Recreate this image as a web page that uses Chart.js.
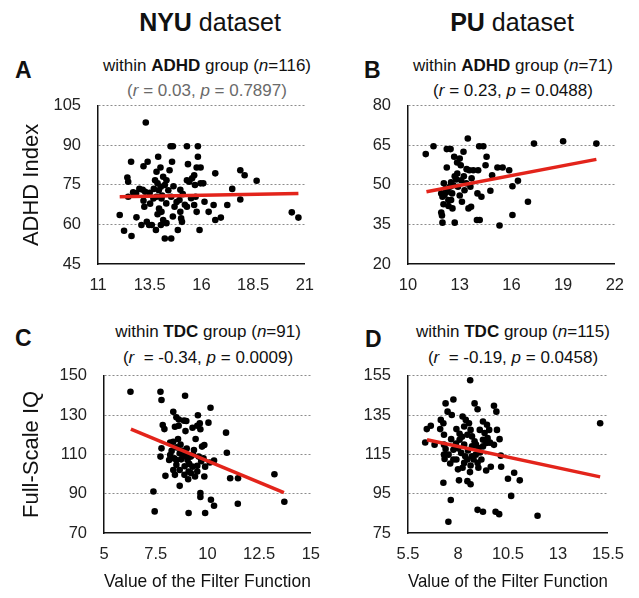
<!DOCTYPE html>
<html>
<head>
<meta charset="utf-8">
<script src="https://cdn.jsdelivr.net/npm/chart.js"></script>
<style>
  body { margin: 0; background: #fff; }
  #fig { position: relative; width: 639px; height: 598px; overflow: hidden;
         font-family: "Liberation Sans", Arial, sans-serif; color: #111; }
  #fig canvas { position: absolute; }
  .t { position: absolute; white-space: nowrap; line-height: 1; transform: translate(-50%, -50%); }
  .hdr { font-size: 25px; }
  .sub { font-size: 17px; }
  .grey { color: #6a6a6a; }
  .let { position: absolute; line-height: 1; font-size: 23px; font-weight: bold; transform: translateY(-50%); }
</style>
</head>
<body>
<div id="fig">
  <div class="t hdr" style="left:210px; top:22px"><b>NYU</b> dataset</div>
  <div class="t hdr" style="left:512px; top:22px"><b>PU</b> dataset</div>

  <div class="let" style="left:15px; top:70px">A</div>
  <div class="t sub" style="left:207px; top:65px">within <b>ADHD</b> group (<i>n</i>=116)</div>
  <div class="t sub grey" style="left:207px; top:90px">(<i>r</i> = 0.03, <i>p</i> = 0.7897)</div>

  <div class="let" style="left:364px; top:70px">B</div>
  <div class="t sub" style="left:513px; top:65px">within <b>ADHD</b> group (<i>n</i>=71)</div>
  <div class="t sub" style="left:513px; top:90px">(<i>r</i> = 0.23, <i>p</i> = 0.0488)</div>

  <div class="let" style="left:15px; top:338px">C</div>
  <div class="t sub" style="left:208px; top:331px">within <b>TDC</b> group (<i>n</i>=91)</div>
  <div class="t sub" style="left:208px; top:357px">(<i>r</i> &nbsp;= -0.34, <i>p</i> = 0.0009)</div>

  <div class="let" style="left:365px; top:339px">D</div>
  <div class="t sub" style="left:513px; top:331px">within <b>TDC</b> group (<i>n</i>=115)</div>
  <div class="t sub" style="left:513px; top:357px">(<i>r</i> &nbsp;= -0.19, <i>p</i> = 0.0458)</div>

  <canvas id="chartA" width="326" height="217" style="left:0px; top:79px"></canvas>
  <canvas id="chartB" width="326" height="217" style="left:310px; top:79px"></canvas>
  <canvas id="chartC" width="332" height="249" style="left:0px; top:349px"></canvas>
  <canvas id="chartD" width="326" height="249" style="left:310px; top:349px"></canvas>
</div>

<script>
// NYU, ADHD group: filter function value vs ADHD index
const nyuAdhdX = [13.31, 12.05, 12.26, 12.62, 12.42, 12.46, 12.6, 12.46, 12.84, 12.86, 13.1, 13.2, 13.4, 13.16, 13.28,
  13.24, 13.36, 13.47, 13.6, 13.52, 13.68, 13.91, 14.02, 13.83, 13.76, 13.88, 14.04, 14.15, 14.23, 13.94, 13.83, 14.07,
  13.88, 14.07, 13.8, 14.04, 14.15, 14.23, 14.54, 14.31, 14.51, 14.62, 14.58, 14.46, 14.31, 14.54, 14.62, 14.7, 14.86,
  14.98, 14.94, 14.98, 15.02, 15.06, 15.3, 15.35, 15.3, 15.41, 15.3, 15.65, 15.77, 15.83, 15.83, 15.96, 15.69, 15.72,
  15.65, 15.77, 15.91, 15.96, 16.09, 16.15, 16.35, 16.59, 16.67, 16.67, 16.94, 17.25, 17.49, 17.88, 18.09, 17.88, 18.67,
  20.37, 20.69, 13.5, 13.7, 14.1, 14.3, 13.2, 14.4, 13.95, 14.8, 15.1, 15.5, 15.2, 12.7, 13.0, 14.65, 15.55]
const nyuAdhdY = [98.7, 63.6, 57.6, 55.6, 77.8, 76.2, 83.8, 70.5, 71.8, 62.7, 59.8, 82.1, 83.8, 73.2, 72.4,
  66.7, 61.0, 59.8, 59.8, 67.9, 69.9, 85.7, 81.6, 80, 76.8, 75.6, 74.3, 78.1, 75, 73, 70.5, 69.9,
  63.9, 64.8, 57.9, 59.8, 61.7, 54.7, 54.7, 60.5, 89.7, 89.7, 83.8, 80.6, 76.8, 70.5, 63.0, 66.7, 57.9,
  73.2, 69.3, 64.8, 62.3, 61.0, 89.7, 82.9, 76.8, 76.2, 66.7, 78.7, 81.6, 89.7, 85.7, 81.6, 75, 70.5,
  67.4, 64.8, 57.9, 75.6, 75.6, 68.6, 64.8, 67.4, 79.4, 61.7, 62.6, 67.4, 73.5, 80.6, 78.7, 69.5, 76.6,
  64.6, 62.6, 72, 73.5, 71, 68, 69, 73, 66, 68.5, 71.5, 70, 67.5, 72.2, 73.5, 74.5, 77.5]
const nyuAdhdFitX = [12.05, 20.69]
const nyuAdhdFitY = [70.5, 71.8]

// PU, ADHD group
const puAdhdX = [11.03, 11.48, 12.25, 12.47, 12.25, 12.08, 11.93, 12.0, 12.06, 11.93, 11.97, 12.0, 12.3, 12.43, 12.56,
  12.5, 12.58, 12.68, 12.71, 12.8, 12.71, 13.0, 13.06, 12.9, 13.13, 13.22, 13.24, 13.47, 13.38, 13.28, 13.56, 13.69,
  13.62, 13.51, 13.66, 13.79, 14.07, 14.0, 14.16, 14.13, 14.37, 14.03, 14.26, 14.56, 14.5, 14.88, 14.78, 15.19, 15.49,
  15.31, 15.87, 16.06, 16.06, 16.38, 16.96, 17.31, 19.0, 20.93, 12.12, 12.34, 12.62, 12.86, 13.09, 12.2, 12.5, 13.0,
  12.85, 13.4, 12.35]
const puAdhdY = [61.7, 64.7, 63.6, 63.6, 56.6, 50.6, 46.8, 45.5, 42.7, 39.5, 38.4, 35.7, 47.4, 49.3, 46.8,
  44.3, 41.1, 60.7, 53.3, 52.1, 35.7, 60.0, 57.5, 49.3, 43.6, 62.6, 53.3, 67.6, 50.6, 48.0, 55.6, 52.5,
  49.3, 41.1, 41.7, 55.6, 55.6, 36.7, 36.7, 64.7, 64.7, 46.8, 45.5, 60.7, 57.5, 53.7, 47.8, 56.6, 56.6,
  34.6, 55.6, 49.5, 38.6, 51.6, 43.6, 65.7, 66.6, 65.7, 46.2, 44.3, 49.9, 54.3, 51.8, 48.5, 51, 46,
  58.5, 56, 42]
const puAdhdFitX = [11.07, 20.93]
const puAdhdFitY = [47.4, 59.7]

// NYU, TDC group: filter function value vs full-scale IQ
const nyuTdcX = [6.28, 7.73, 7.78, 8.92, 10.15, 8.35, 8.5, 8.62, 8.87, 8.98, 9.54, 7.84, 7.92, 8.43, 8.61, 8.94, 9.28,
  9.51, 9.63, 9.66, 10.05, 10.9, 9.43, 8.58, 8.35, 8.2, 8.51, 9.85, 9.74, 7.78, 8.27, 8.66, 8.82, 8.97, 9.35, 9.2, 9.58,
  7.73, 8.15, 8.5, 8.73, 10.94, 9.81, 10.32, 10.12, 9.89, 9.51, 9.12, 8.5, 8.35, 8.66, 8.43, 7.97, 8.89, 9.09, 9.4, 9.51,
  9.07, 9.85, 8.66, 11.1, 11.48, 13.24, 7.39, 9.66, 9.66, 10.17, 10.32, 11.47, 13.72, 7.45, 9.09, 9.89, 8.81, 9.04, 9.28,
  8.2, 8.7, 9.0, 9.3, 8.4, 9.7, 8.9, 9.2]
const nyuTdcY = [141.9, 141.9, 137.7, 139.9, 133.8, 131.7, 128.9, 127.8, 127.2, 127, 130, 125, 122.9, 124.1, 124.6, 121.9, 123.6,
  124.6, 125.8, 122.8, 126.2, 121.1, 117.9, 117.9, 116.5, 116, 113.6, 114.8, 114, 113.1, 111.8, 110.6, 111.8, 109.7, 112.3, 108.9, 108.9,
  108.9, 107.2, 107.2, 107.5, 110.9, 108.1, 106.9, 105.9, 103.8, 104.2, 105.2, 104.7, 102.1, 102.1, 99.6, 99.1, 99.6, 101.3, 98.8, 101.3,
  97.4, 98.8, 94, 97.9, 97.9, 99.9, 91.1, 90.3, 88.3, 86.9, 83.9, 84.9, 85.9, 81, 80.2, 80.2, 108.9, 107.2, 103.8,
  109.7, 115, 113, 110, 108, 106.5, 104, 100.5]
const nyuTdcFitX = [6.3, 13.7]
const nyuTdcFitY = [122.9, 90.6]

// PU, TDC group
const puTdcX = [8.61, 7.38, 7.77, 7.48, 7.69, 8.83, 8.98, 9.8, 9.92, 6.44, 6.64, 7.14, 7.27, 7.11, 7.3, 7.66, 7.92, 8.08,
  8.23, 8.39, 8.55, 8.31, 8.63, 8.7, 8.83, 9.09, 9.25, 9.45, 9.33, 9.48, 9.42, 9.25, 9.95, 9.8, 10.08, 10.14, 6.36, 6.83,
  7.3, 7.38, 7.3, 7.33, 7.61, 7.77, 8.0, 8.16, 8.31, 8.36, 8.47, 8.23, 8.63, 8.78, 8.89, 8.98, 9.17, 9.02, 9.41, 9.64,
  8.47, 8.63, 8.05, 7.27, 7.64, 7.52, 8.98, 9.25, 9.88, 10.06, 10.16, 10.5, 10.81, 11.09, 10.66, 11.98, 15.11, 7.92, 8.08,
  8.47, 8.7, 9.02, 9.25, 9.56, 7.77, 8.31, 8.7, 7.53, 8.0, 8.5, 8.9, 9.1, 8.2, 9.6, 7.9, 8.6]
const puTdcY = [152.8, 141, 143, 136.8, 135.1, 141, 138, 139.8, 136.8, 127.9, 129.6, 132.6, 130.9, 127.9, 125, 122.8, 127.9, 125.5,
  134.3, 132.6, 130.9, 129.2, 127.5, 124.2, 121.7, 127.5, 131.8, 130.1, 125.9, 123.3, 120.8, 119.1, 127.5, 119.9, 122.8, 114.4, 121.1, 120,
  120, 117.8, 114.9, 112.7, 110.4, 117.4, 118.1, 115.8, 120, 114.1, 112.4, 108.2, 109.4, 112.4, 114.9, 110.7, 112.4, 108.2, 106.8, 108.7,
  101.4, 99.8, 101.8, 100.6, 91.8, 80.7, 86.8, 85.8, 85.8, 84.6, 108.7, 102.6, 105.7, 101.8, 93.9, 83.8, 130.9, 112.4, 122.5,
  125, 119.1, 118.3, 122.5, 127.5, 112.4, 110.7, 114.1, 114.9, 107.4, 117, 120, 116, 124, 121, 120.5, 106]
const puTdcFitX = [6.45, 15.11]
const puTdcFitY = [122.5, 103.6]

// tick labels
const xTicksA = [11, 13.5, 16, 18.5, 21]
const yTicksA = [45, 60, 75, 90, 105]
const xTicksB = [10, 13, 16, 19, 22]
const yTicksB = [20, 35, 50, 65, 80]
const xTicksC = [5, 7.5, 10, 12.5, 15]
const yTicksC = [70, 90, 110, 130, 150]
const xTicksD = [5.5, 8, 10.5, 13, 15.5]
const yTicksD = [75, 95, 115, 135, 155]

const FONT = '"Liberation Sans", Arial, sans-serif'
const toPts = (xs, ys) => xs.map((x, i) => ({ x: x, y: ys[i] }))

function panel(id, xs, ys, fitX, fitY, xt, yt, yTitle, xTitle, yWidth, xHeight) {
  new Chart(document.getElementById(id), {
    data: {
      datasets: [
        { type: 'line', data: toPts(fitX, fitY), borderColor: '#e3241b', borderWidth: 3.5,
          pointRadius: 0, borderCapStyle: 'butt', order: 0 },
        { type: 'scatter', data: toPts(xs, ys), backgroundColor: '#000', borderWidth: 0,
          pointRadius: 3.3, order: 1 }
      ]
    },
    options: {
      responsive: false,
      animation: false,
      // top space comes from the y tick labels (half label height + tick padding)
      layout: { padding: { left: 0, right: 15, top: 0, bottom: 0 } },
      plugins: { legend: { display: false }, tooltip: { enabled: false } },
      scales: {
        x: {
          type: 'linear', min: xt[0], max: xt[xt.length - 1],
          afterBuildTicks: s => { s.ticks = xt.map(v => ({ value: v })) },
          afterFit: s => { s.height = xHeight },
          grid: { display: false, drawTicks: false },
          border: { display: true, color: '#111', width: 1.5 },
          ticks: { color: '#222', padding: 12, maxRotation: 0, autoSkip: false,
                   font: { family: FONT, size: 16.5 }, callback: v => String(v) },
          title: xTitle ? { display: true, text: xTitle, color: '#111',
                            font: { family: FONT, size: 19 }, padding: { top: 0, bottom: 5 } }
                        : { display: false }
        },
        y: {
          type: 'linear', min: yt[0], max: yt[yt.length - 1],
          afterBuildTicks: s => { s.ticks = yt.map(v => ({ value: v })) },
          afterFit: s => { s.width = yWidth },
          grid: { drawTicks: false, lineWidth: 1,
                  color: c => c.index === 0 ? 'rgba(0,0,0,0)' : '#8c8c8c' },
          border: { display: true, color: '#111', width: 1.5, dash: [2, 2] },
          ticks: { color: '#222', padding: 17, font: { family: FONT, size: 16.5 },
                   callback: v => String(v) },
          title: yTitle ? { display: true, text: yTitle, color: '#111',
                            font: { family: FONT, size: 22 }, padding: { top: 19, bottom: 0 } }
                        : { display: false }
        }
      }
    }
  })
}

panel('chartA', nyuAdhdX, nyuAdhdY, nyuAdhdFitX, nyuAdhdFitY, xTicksA, yTicksA, 'ADHD Index', null, 98, 32)
panel('chartB', puAdhdX, puAdhdY, puAdhdFitX, puAdhdFitY, xTicksB, yTicksB, null, null, 98, 32)
panel('chartC', nyuTdcX, nyuTdcY, nyuTdcFitX, nyuTdcFitY, xTicksC, yTicksC, 'Full-Scale IQ', 'Value of the Filter Function', 104, 65)
panel('chartD', puTdcX, puTdcY, puTdcFitX, puTdcFitY, xTicksD, yTicksD, null, 'Value of the Filter Function', 98, 65)
</script>
</body>
</html>
